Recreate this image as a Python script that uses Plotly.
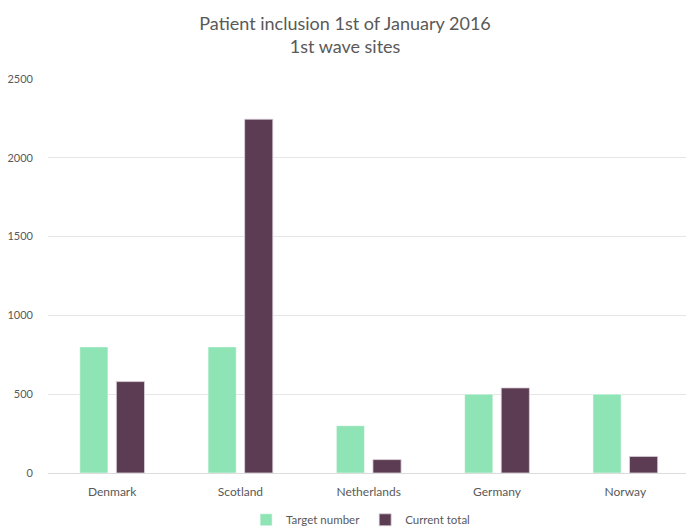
import plotly.graph_objects as go

countries = ["Denmark", "Scotland", "Netherlands", "Germany", "Norway"]
target_number = [800, 800, 300, 500, 500]
current_total = [580, 2245, 85, 540, 105]
y_ticks = [0, 500, 1000, 1500, 2000, 2500]

fig = go.Figure()
fig.add_trace(go.Bar(x=countries, y=target_number, name="Target number",
                     marker=dict(color="#8ee4b5", line=dict(color="rgba(255,255,255,0.5)", width=1))))
fig.add_trace(go.Bar(x=countries, y=current_total, name="Current total",
                     marker=dict(color="#5c3c52", line=dict(color="rgba(220,210,220,0.8)", width=1))))

fig.update_layout(
    width=686, height=527,
    paper_bgcolor="white", plot_bgcolor="white",
    margin=dict(l=47.5, r=0, t=78.5, b=53.5, autoexpand=False),
    font=dict(family="Lato, Open Sans, sans-serif", color="#595959", size=12),
    title=dict(text="Patient inclusion 1st of January 2016<br>1st wave sites",
               x=0.503, xanchor="center", y=0.943, yanchor="top",
               font=dict(size=18, color="#595959")),
    barmode="group", bargap=0.43, bargroupgap=0.23,
    showlegend=True,
    legend=dict(orientation="h", x=0.49, xanchor="center", y=-0.082, yanchor="top",
                font=dict(size=11.5, color="#595959"), itemwidth=30, traceorder="normal"),
    xaxis=dict(range=[-0.5, 4.473], showgrid=False, showline=False, ticks="",
               automargin=False, ticklabelstandoff=10,
               tickfont=dict(size=12, color="#595959"), fixedrange=True),
    yaxis=dict(range=[0, 2500], tickvals=y_ticks, showgrid=True, gridcolor="#e6e6e6",
               gridwidth=1, zeroline=True, zerolinecolor="#dcdcdc", zerolinewidth=1,
               showline=False, ticks="", ticklabelstandoff=14, automargin=False,
               tickfont=dict(size=11, color="#595959")),
)

fig.write_html("out.html", config={"displayModeBar": False},
               post_script="document.body.style.margin='0px';")
